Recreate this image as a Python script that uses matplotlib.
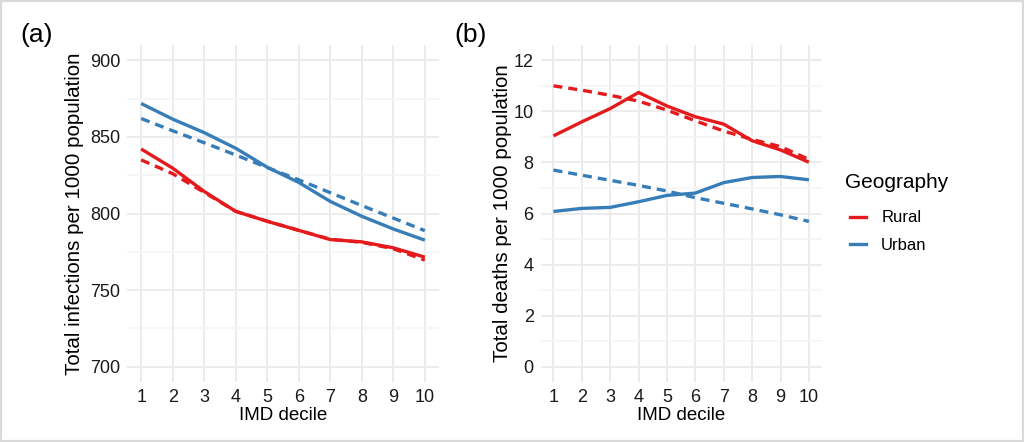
import matplotlib
matplotlib.use('Agg')
from matplotlib import pyplot as plt
from matplotlib.lines import Line2D
from matplotlib.patches import Rectangle

plt.rcParams['font.family'] = ['Liberation Sans', 'DejaVu Sans']

deciles = [1, 2, 3, 4, 5, 6, 7, 8, 9, 10]

# (a) total infections per 1000 population
inf_urban = [871.8, 861.6, 852.8, 842.6, 830.2, 820.3, 807.9, 798.2, 789.9, 782.6]
inf_urban_fit = [862.0, 854.0, 846.2, 838.2, 830.0, 822.0, 813.6, 805.2, 797.0, 788.8]
inf_rural = [842.1, 829.6, 814.4, 801.4, 794.9, 789.0, 783.0, 781.5, 777.6, 771.5]
inf_rural_fit = [835.0, 826.0, 813.8, 801.4, 795.0, 789.0, 783.2, 781.2, 777.0, 769.6]

# (b) total deaths per 1000 population
dth_urban = [6.08, 6.20, 6.24, 6.46, 6.71, 6.80, 7.21, 7.41, 7.45, 7.32]
dth_urban_fit = [7.70, 7.50, 7.30, 7.10, 6.88, 6.62, 6.40, 6.18, 5.95, 5.69]
dth_rural = [9.04, 9.59, 10.11, 10.74, 10.21, 9.79, 9.50, 8.85, 8.49, 8.01]
dth_rural_fit = [11.0, 10.83, 10.63, 10.40, 10.05, 9.63, 9.23, 8.90, 8.62, 8.12]

red = '#E41A1C'
blue = '#377EB8'
grid_major = '#EBEBEB'
grid_minor = '#F4F4F4'
dash = (0, (2.7, 1.8))
lw = 2.4

fig = plt.figure(figsize=(10.24, 4.42), dpi=100)
fig.patches.append(Rectangle((0, 0), 1, 1, transform=fig.transFigure,
                             fill=False, edgecolor='#D9D9D9', linewidth=3))

ax1 = fig.add_axes([0.124, 0.1357, 0.3047, 0.7625])
ax2 = fig.add_axes([0.528, 0.1357, 0.2744, 0.7625])


def style(ax, major, minor, ylim):
    for s in ax.spines.values():
        s.set_visible(False)
    ax.set_xlim(0.55, 10.45)
    ax.set_ylim(*ylim)
    ax.set_xticks(deciles)
    ax.set_yticks(major)
    ax.set_yticks(minor, minor=True)
    ax.tick_params(axis='both', which='both', length=0, labelsize=13,
                   colors='#1A1A1A', pad=5)
    ax.grid(True, which='major', color=grid_major, linewidth=1.3)
    ax.grid(True, which='minor', axis='y', color=grid_minor, linewidth=1.1)
    ax.set_axisbelow(True)
    ax.set_xlabel('IMD decile', fontsize=13.5, labelpad=1)


style(ax1, [700, 750, 800, 850, 900], [725, 775, 825, 875], (690, 910))
ax1.plot(deciles, inf_urban, color=blue, lw=lw, solid_capstyle='butt')
ax1.plot(deciles, inf_urban_fit, color=blue, lw=lw, linestyle=dash)
ax1.plot(deciles, inf_rural, color=red, lw=lw, solid_capstyle='butt')
ax1.plot(deciles, inf_rural_fit, color=red, lw=lw, linestyle=dash)
ax1.set_ylabel('Total infections per 1000 population', fontsize=14.8, labelpad=4)

style(ax2, [0, 2, 4, 6, 8, 10, 12], [1, 3, 5, 7, 9, 11], (-0.6, 12.6))
ax2.plot(deciles, dth_urban, color=blue, lw=lw, solid_capstyle='butt')
ax2.plot(deciles, dth_urban_fit, color=blue, lw=lw, linestyle=dash)
ax2.plot(deciles, dth_rural, color=red, lw=lw, solid_capstyle='butt')
ax2.plot(deciles, dth_rural_fit, color=red, lw=lw, linestyle=dash)
ax2.set_ylabel('Total deaths per 1000 population', fontsize=14.8, labelpad=1)

fig.text(0.02, 0.92, '(a)', fontsize=19, va='center', ha='left')
fig.text(0.444, 0.92, '(b)', fontsize=19, va='center', ha='left')

# legend title placed on its own, entries below it
fig.text(0.825, 0.588, 'Geography', fontsize=15, va='center', ha='left')
handles = [Line2D([], [], color=red, lw=lw), Line2D([], [], color=blue, lw=lw)]
fig.legend(handles, ['Rural', 'Urban'],
           loc='upper left', bbox_to_anchor=(0.815, 0.558),
           frameon=False, fontsize=12,
           handlelength=1.0, handletextpad=0.9, labelspacing=0.75)

fig.savefig('out.png', dpi=100)
